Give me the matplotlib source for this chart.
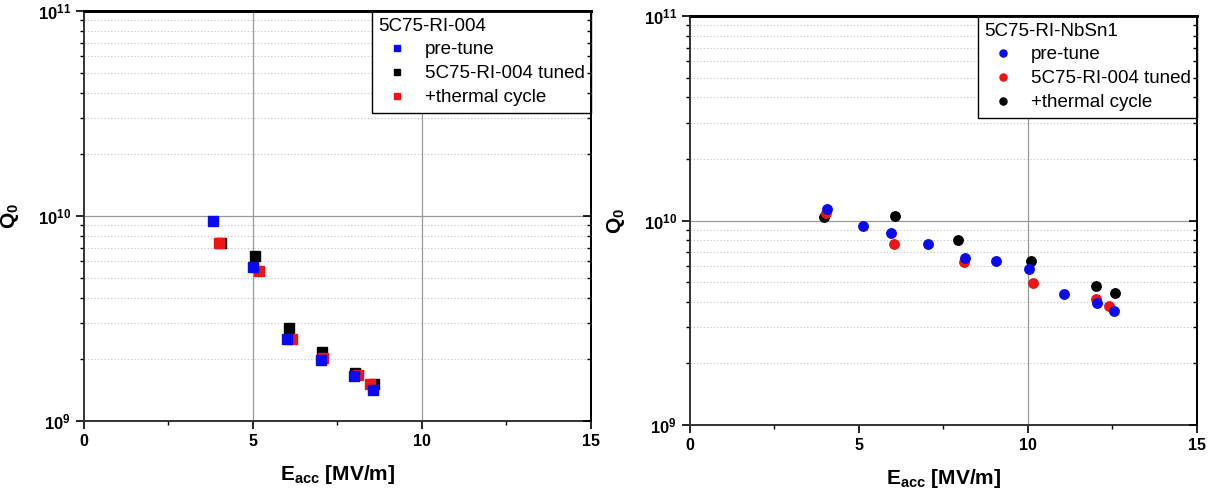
import matplotlib
matplotlib.use('Agg')
import matplotlib.pyplot as plt
import numpy as np

plt.rcParams['font.family'] = ['Liberation Sans', 'DejaVu Sans']
plt.rcParams['mathtext.fontset'] = 'custom'
plt.rcParams['mathtext.rm'] = 'Liberation Sans'
plt.rcParams['mathtext.bf'] = 'Liberation Sans:bold'

# left panel: 5C75-RI-004 (squares)
left_title = '5C75-RI-004'
left_labels = ['pre-tune', '5C75-RI-004 tuned', '+thermal cycle']
left_pre_x = [3.83, 5.00, 6.00, 7.00, 7.99, 8.55]
left_pre_q = [9.42e9, 5.61e9, 2.50e9, 1.98e9, 1.65e9, 1.41e9]
left_tuned_x = [4.05, 5.07, 6.07, 7.05, 8.03, 8.58]
left_tuned_q = [7.35e9, 6.38e9, 2.84e9, 2.16e9, 1.72e9, 1.52e9]
left_tc_x = [3.98, 5.17, 6.14, 7.08, 8.11, 8.47]
left_tc_q = [7.35e9, 5.38e9, 2.50e9, 2.02e9, 1.68e9, 1.51e9]

# right panel: 5C75-RI-NbSn1 (circles)
right_title = '5C75-RI-NbSn1'
right_labels = ['pre-tune', '5C75-RI-004 tuned', '+thermal cycle']
right_pre_x = [4.04, 5.11, 5.96, 7.05, 8.14, 9.04, 10.02, 11.06, 12.03, 12.55]
right_pre_q = [1.14e10, 9.35e9, 8.67e9, 7.67e9, 6.53e9, 6.36e9, 5.79e9, 4.37e9, 3.94e9, 3.61e9]
right_tuned_x = [4.02, 6.04, 8.11, 10.15, 12.00, 12.40]
right_tuned_q = [1.09e10, 7.67e9, 6.29e9, 4.93e9, 4.13e9, 3.80e9]
right_tc_x = [3.96, 6.07, 7.93, 10.10, 12.02, 12.57]
right_tc_q = [1.04e10, 1.05e10, 8.02e9, 6.36e9, 4.80e9, 4.43e9]

BLUE = '#0a0af0'
RED = '#ee1515'
BLACK = '#000000'

fig = plt.figure(figsize=(12.12, 4.96), dpi=100)
ax1 = fig.add_axes([0.0693, 0.1512, 0.4183, 0.8266])
ax2 = fig.add_axes([0.5693, 0.1431, 0.4183, 0.8246])


def style_axes(ax, vgrid):
    ax.set_yscale('log')
    ax.set_xlim(0, 15)
    ax.set_ylim(1e9, 1e11)
    # dotted minor grid, solid major lines
    for dec in [1e9, 1e10]:
        for m in range(2, 10):
            ax.axhline(m * dec, color='#c4c4c4', ls=(0, (1, 2)), lw=0.8, zorder=0)
    ax.axhline(1e10, color='#999999', lw=0.9, zorder=0)
    for v in vgrid:
        ax.axvline(v, color='#999999', lw=0.9, zorder=0)
    ax.set_xticks([0, 5, 10, 15])
    ax.set_xticks([2.5, 7.5, 12.5], minor=True)
    ax.set_xticklabels(['0', '5', '10', '15'], fontweight='bold', fontsize=11.5)
    ax.set_yticks([1e9, 1e10, 1e11])
    ax.set_yticklabels([r'$\mathbf{10^{9}}$', r'$\mathbf{10^{10}}$', r'$\mathbf{10^{11}}$'], fontsize=12)
    ax.tick_params(axis='both', which='major', direction='out', length=6, width=1.2, right=False)
    ax.tick_params(axis='both', which='minor', direction='out', length=3, width=1.0, right=False)
    for sp in ['left', 'bottom']:
        ax.spines[sp].set_color('#333333')
        ax.spines[sp].set_linewidth(1.4)
    ax.spines['top'].set_linewidth(2.0)
    ax.spines['right'].set_linewidth(1.4)
    ax.set_xlabel(r'E$_{\mathbf{acc}}$ [MV/m]', fontweight='bold', fontsize=15, labelpad=10)
    ax.set_ylabel(r'Q$_{\mathbf{0}}$', fontweight='bold', fontsize=15)
    ax.yaxis.set_label_coords(-0.125, 0.5)
    # inward ticks on the right side
    tw = ax.twinx()
    tw.set_yscale('log')
    tw.set_ylim(1e9, 1e11)
    tw.set_yticks([1e9, 1e10, 1e11])
    tw.tick_params(axis='y', which='major', direction='in', length=6, width=1.2, labelright=False)
    tw.tick_params(axis='y', which='minor', direction='in', length=3, width=1.0)
    tw.spines['right'].set_linewidth(1.4)
    tw.spines['top'].set_linewidth(2.0)
    tw.spines['left'].set_visible(False)
    tw.spines['bottom'].set_visible(False)
    return tw


style_axes(ax1, [5, 10])
style_axes(ax2, [10])

leg_kw = dict(loc='upper right', borderaxespad=0, fancybox=False, edgecolor='black',
              framealpha=1, fontsize=13.5, title_fontsize=13.5, markerscale=0.75,
              handlelength=2.0, handletextpad=0.45, borderpad=0.35, labelspacing=0.36,
              alignment='left')

# left panel squares
h1 = ax1.plot(left_tuned_x, left_tuned_q, 's', color=BLACK, ms=6.5, zorder=3)[0]
h2 = ax1.plot(left_tc_x, left_tc_q, 's', color=RED, ms=6.5, zorder=4)[0]
h0 = ax1.plot(left_pre_x, left_pre_q, 's', color=BLUE, ms=6.5, zorder=5)[0]
leg1 = ax1.legend([h0, h1, h2], left_labels, title=left_title, **leg_kw)
leg1.get_frame().set_linewidth(1.0)
leg1.set_zorder(10)

# right panel circles
g2 = ax2.plot(right_tc_x, right_tc_q, 'o', color=BLACK, ms=6.8, zorder=3)[0]
g1 = ax2.plot(right_tuned_x, right_tuned_q, 'o', color=RED, ms=6.8, zorder=4)[0]
g0 = ax2.plot(right_pre_x, right_pre_q, 'o', color=BLUE, ms=6.8, zorder=5)[0]
leg2 = ax2.legend([g0, g1, g2], right_labels, title=right_title, **leg_kw)
leg2.get_frame().set_linewidth(1.0)
leg2.set_zorder(10)

fig.savefig('out.png', dpi=100)
